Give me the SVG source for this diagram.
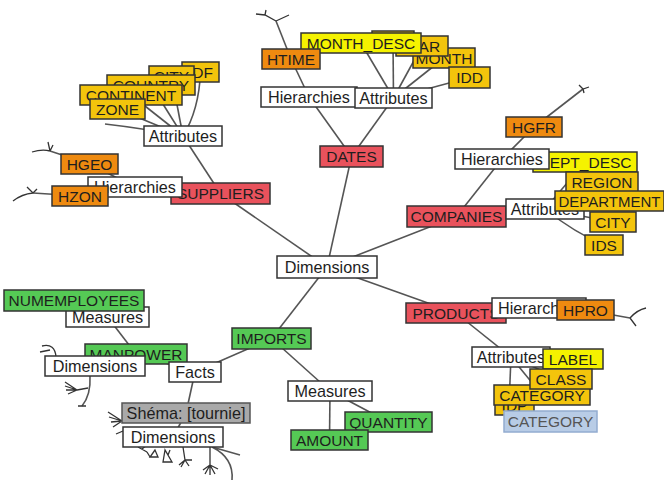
<svg xmlns="http://www.w3.org/2000/svg" width="664" height="482" viewBox="0 0 664 482">
<style>
.bg{fill:#ffffff}
rect{stroke:#333;stroke-width:1.5}
.w{fill:#ffffff}
.r{fill:#e9525c}
.o{fill:#ee8a10}
.g{fill:#f3c40c}
.y{fill:#f5f200}
.gr{fill:#55c955}
.s{fill:#a9a9a9;stroke:#555}
.b{fill:#b8cce6;stroke:#93acd0}
text{font-family:"Liberation Sans",Arial,sans-serif;font-size:15.5px;fill:#1e1e1e;text-anchor:middle}
.w + text,.s + text{font-size:16.2px}
#connectors line,#connectors path{stroke:#555;stroke-width:1.6;fill:none}
#connectors .t{stroke:#333;stroke-width:1.3}
</style>
<rect class="bg" x="0" y="0" width="664" height="482" style="stroke:none"/>
<g id="connectors">
<line x1="327" y1="267" x2="351.5" y2="156.5"/>
<line x1="327" y1="267" x2="220.5" y2="193.5"/>
<line x1="327" y1="267" x2="456.5" y2="216.5"/>
<line x1="327" y1="267" x2="456" y2="313"/>
<line x1="327" y1="267" x2="271.5" y2="338.5"/>
<line x1="351.5" y1="156.5" x2="309" y2="97"/>
<line x1="351.5" y1="156.5" x2="393.5" y2="98"/>
<line x1="309" y1="97" x2="291" y2="59"/>
<line x1="291" y1="59" x2="276" y2="21"/>
<path class="t" d="M276,21 L265,15 L256,14 M265,15 L266,10 M276,21 L289,15"/>
<line x1="393.5" y1="98" x2="361" y2="43"/>
<line x1="393.5" y1="98" x2="393" y2="41"/>
<line x1="393.5" y1="98" x2="422" y2="46"/>
<line x1="393.5" y1="98" x2="444" y2="58"/>
<line x1="393.5" y1="98" x2="469.5" y2="77.5"/>
<line x1="220.5" y1="193.5" x2="183" y2="136"/>
<line x1="220.5" y1="193.5" x2="135" y2="187"/>
<line x1="135" y1="187" x2="89.5" y2="164"/>
<line x1="135" y1="187" x2="80" y2="196"/>
<path d="M89.5,164 L50,151"/>
<path class="t" d="M50,151 Q42,149 32,152 M50,151 L48,142 M50,151 L53,145"/>
<path d="M80,196 L33,193"/>
<path class="t" d="M33,193 Q22,194 13,201 M33,193 L27,187 M33,193 L37,189"/>
<line x1="183" y1="136" x2="117.5" y2="109"/>
<line x1="183" y1="136" x2="131" y2="95"/>
<line x1="183" y1="136" x2="151" y2="85"/>
<line x1="183" y1="136" x2="171.5" y2="76"/>
<path d="M183,136 Q199,110 200.5,72"/>
<path d="M183,136 Q140,128 105,124"/>
<line x1="456.5" y1="216.5" x2="502" y2="159"/>
<line x1="456.5" y1="216.5" x2="545" y2="209"/>
<line x1="502" y1="159" x2="534" y2="127"/>
<line x1="534" y1="127" x2="583" y2="89"/>
<path class="t" d="M579,85 L583,89 L589,87 M583,89 L584,93"/>
<line x1="545" y1="209" x2="585" y2="162"/>
<line x1="545" y1="209" x2="602" y2="182"/>
<line x1="545" y1="209" x2="609.5" y2="201"/>
<line x1="545" y1="209" x2="613" y2="222"/>
<path d="M545,209 Q575,233 604,245"/>
<line x1="456" y1="313" x2="539" y2="308"/>
<line x1="456" y1="313" x2="511" y2="357"/>
<line x1="539" y1="308" x2="585.5" y2="310"/>
<path d="M585.5,310 L630,318"/>
<path class="t" d="M630,318 Q637,310 646,308 M630,318 L636,326"/>
<line x1="511" y1="357" x2="573" y2="359"/>
<line x1="511" y1="357" x2="561" y2="379"/>
<line x1="511" y1="357" x2="542" y2="395"/>
<line x1="511" y1="357" x2="509" y2="405"/>
<line x1="271.5" y1="338.5" x2="330" y2="391"/>
<line x1="271.5" y1="338.5" x2="195" y2="372"/>
<line x1="330" y1="391" x2="388.5" y2="422"/>
<line x1="330" y1="391" x2="329.5" y2="440"/>
<line x1="195" y1="372" x2="136" y2="354"/>
<line x1="195" y1="372" x2="186" y2="413"/>
<line x1="136" y1="354" x2="107.5" y2="317"/>
<line x1="136" y1="354" x2="95" y2="366"/>
<line x1="107.5" y1="317" x2="74" y2="300"/>
<line x1="186" y1="413" x2="173" y2="437"/>
<path class="t" d="M42,346 Q55,343 56,357 M40,352 L50,350"/>
<path d="M90,376 Q91,395 82,406"/>
<path class="t" d="M78,406 L86,406 M88,388 L77,390 M77,390 L65,382 M77,390 L65,386 M77,390 L66,390 M77,390 L68,394"/>
<path class="t" d="M122,421 L108,412 M122,421 L109,417 M122,421 L111,422 M122,421 L113,427 M123,431 L116,434"/>
<path class="t" d="M138,447 L147,452 M142,449 L147,445 M147,452 L150,457 M155,450 L150,457 L158,457 Z M165,450 L163,462 L172,462 Z M168,455 L170,450 M183,447 L185,460 M185,460 L179,465 M185,460 L181,467 M185,460 L189,466 M185,460 L192,460"/>
<path class="t" d="M210,447 L210,465 M210,465 L203,470 M210,465 L205,474 M210,465 L210,475 M210,465 L215,474 M210,465 L218,469"/>
<path d="M212,447 L240,455 M212,447 Q234,458 232,480"/>
</g>
<g id="n_dimensions"><rect class="w" x="277" y="256" width="100" height="22"/><text x="327" y="272.5">Dimensions</text></g>
<g id="n_dates"><rect class="r" x="320" y="146" width="63" height="21"/><text x="351.5" y="162">DATES</text></g>
<g id="n_products"><rect class="r" x="406" y="303" width="100" height="20"/><text x="456" y="318.5">PRODUCTS</text></g>
<g id="n_imports"><rect class="gr" x="232" y="328" width="79" height="21"/><text x="271.5" y="344">IMPORTS</text></g>
<g id="n_companies"><rect class="r" x="407" y="206" width="99" height="21"/><text x="456.5" y="222">COMPANIES</text></g>
<g id="n_suppliers"><rect class="r" x="171" y="183" width="99" height="21"/><text x="220.5" y="199">SUPPLIERS</text></g>

<g id="n_dates_hidden"><rect class="g" x="372" y="31" width="42" height="20"/></g>
<g id="n_month"><rect class="g" x="413" y="48" width="62" height="20"/><text x="444" y="63.5">MONTH</text></g>
<g id="n_year"><rect class="g" x="396" y="36" width="52" height="20"/><text x="419" y="51.5">YEAR</text></g>
<g id="n_idd"><rect class="g" x="449" y="67" width="41" height="21"/><text x="469.5" y="83">IDD</text></g>
<g id="n_month_desc"><rect class="y" x="301" y="33" width="120" height="20"/><text x="361" y="48.5">MONTH_DESC</text></g>
<g id="n_htime"><rect class="o" x="262" y="49" width="58" height="20"/><text x="291" y="64.5">HTIME</text></g>
<g id="n_dates_hier"><rect class="w" x="261" y="87" width="96" height="20"/><text x="309" y="102.5">Hierarchies</text></g>
<g id="n_dates_attr"><rect class="w" x="355" y="88" width="77" height="20"/><text x="393.5" y="103.5">Attributes</text></g>

<g id="n_idf"><rect class="g" x="182" y="62" width="37" height="20"/><text x="200.5" y="77.5">IDF</text></g>
<g id="n_city_s"><rect class="g" x="149" y="66" width="45" height="20"/><text x="171.5" y="81.5">CITY</text></g>
<g id="n_country"><rect class="g" x="107" y="75" width="88" height="20"/><text x="151" y="90.5">COUNTRY</text></g>
<g id="n_continent"><rect class="g" x="80" y="85" width="102" height="20"/><text x="131" y="100.5">CONTINENT</text></g>
<g id="n_zone"><rect class="g" x="90" y="99" width="55" height="20"/><text x="117.5" y="114.5">ZONE</text></g>
<g id="n_sup_attr"><rect class="w" x="144" y="126" width="78" height="20"/><text x="183" y="141.5">Attributes</text></g>
<g id="n_hgeo"><rect class="o" x="61" y="154" width="57" height="20"/><text x="89.5" y="169.5">HGEO</text></g>
<g id="n_sup_hier"><rect class="w" x="88" y="177" width="94" height="20"/><text x="135" y="192.5">Hierarchies</text></g>
<g id="n_hzon"><rect class="o" x="52" y="186" width="56" height="20"/><text x="80" y="201.5">HZON</text></g>

<g id="n_hgfr"><rect class="o" x="506" y="117" width="56" height="20"/><text x="534" y="132.5">HGFR</text></g>
<g id="n_dept_desc"><rect class="y" x="533" y="152" width="104" height="20"/><text x="585" y="167.5">DEPT_DESC</text></g>
<g id="n_comp_hier"><rect class="w" x="455" y="149" width="94" height="20"/><text x="502" y="164.5">Hierarchies</text></g>
<g id="n_region"><rect class="g" x="566" y="172" width="72" height="20"/><text x="602" y="187.5">REGION</text></g>
<g id="n_comp_attr"><rect class="w" x="506" y="199" width="78" height="20"/><text x="545" y="214.5">Attributes</text></g>
<g id="n_department"><rect class="g" x="555" y="191" width="109" height="20"/><text x="609.5" y="206.5" style="font-size:15px">DEPARTMENT</text></g>
<g id="n_city_c"><rect class="g" x="590" y="212" width="46" height="20"/><text x="613" y="227.5">CITY</text></g>
<g id="n_ids"><rect class="g" x="585" y="235" width="38" height="20"/><text x="604" y="250.5">IDS</text></g>

<g id="n_prod_hier"><rect class="w" x="492" y="298" width="94" height="20"/><text x="539" y="313.5">Hierarchies</text></g>
<g id="n_hpro"><rect class="o" x="557" y="300" width="57" height="20"/><text x="585.5" y="315.5">HPRO</text></g>
<g id="n_prod_attr"><rect class="w" x="472" y="347" width="78" height="20"/><text x="511" y="362.5">Attributes</text></g>
<g id="n_label"><rect class="y" x="543" y="349" width="60" height="20"/><text x="573" y="364.5">LABEL</text></g>
<g id="n_idp"><rect class="g" x="495" y="395" width="39" height="20"/><text x="514.5" y="410.5">IDP</text></g>
<g id="n_category"><rect class="g" x="494" y="385" width="96" height="20"/><text x="542" y="400.5">CATEGORY</text></g>
<g id="n_class"><rect class="g" x="530" y="369" width="62" height="20"/><text x="561" y="384.5">CLASS</text></g>
<g id="n_category_b"><rect class="b" x="504" y="411" width="93" height="21"/><text x="550.5" y="427" style="fill:#555">CATEGORY</text></g>

<g id="n_imp_measures"><rect class="w" x="288" y="381" width="84" height="20"/><text x="330" y="396.5">Measures</text></g>
<g id="n_quantity"><rect class="gr" x="345" y="412" width="87" height="20"/><text x="388.5" y="427.5">QUANTITY</text></g>
<g id="n_amount"><rect class="gr" x="291" y="430" width="77" height="20"/><text x="329.5" y="445.5">AMOUNT</text></g>
<g id="n_mp_measures"><rect class="w" x="66" y="307" width="83" height="20"/><text x="107.5" y="322.5">Measures</text></g>
<g id="n_numemployees"><rect class="gr" x="4" y="290" width="140" height="21"/><text x="74" y="306">NUMEMPLOYEES</text></g>
<g id="n_manpower"><rect class="gr" x="85" y="344" width="102" height="20"/><text x="136" y="359.5">MANPOWER</text></g>
<g id="n_mp_dims"><rect class="w" x="45" y="356" width="100" height="20"/><text x="95" y="371.5">Dimensions</text></g>
<g id="n_facts"><rect class="w" x="169" y="362" width="52" height="20"/><text x="195" y="377.5">Facts</text></g>
<g id="n_schema"><rect class="s" x="122" y="403" width="128" height="20"/><text x="186" y="418.5">Shéma: [tournie]</text></g>
<g id="n_sch_dims"><rect class="w" x="123" y="427" width="100" height="20"/><text x="173" y="442.5">Dimensions</text></g>
</svg>
